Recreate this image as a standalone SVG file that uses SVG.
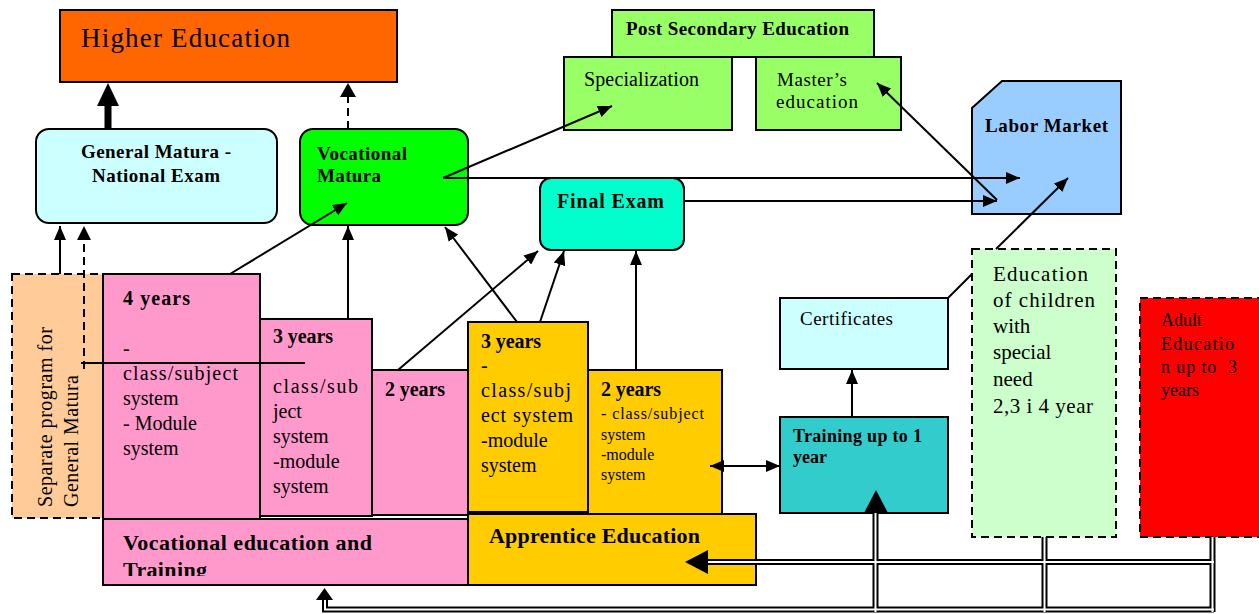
<svg xmlns="http://www.w3.org/2000/svg" width="1259" height="614" viewBox="0 0 1259 614">
<style>
.box{stroke:#000;stroke-width:2}
.dash{stroke:#000;stroke-width:2;stroke-dasharray:8,5}
.t{font-family:"Liberation Serif","Times New Roman",serif;fill:#000}
.b{font-weight:bold}
.ln{stroke:#000;stroke-width:2;fill:none}
.dbo{stroke:#000;stroke-width:6;fill:none}
.dbi{stroke:#fff;stroke-width:2;fill:none}
</style>
<defs>
<marker id="ah" viewBox="0 0 14 12" refX="14" refY="6" markerWidth="14" markerHeight="12" markerUnits="userSpaceOnUse" orient="auto-start-reverse"><path d="M0,0 L14,6 L0,12 z" fill="#000"/></marker>
<clipPath id="vclip"><rect x="103" y="519" width="365" height="57"/></clipPath>
</defs>
<rect width="1259" height="614" fill="#fff"/>

<g id="higher-education"><rect class="box" x="60" y="10" width="337" height="72" fill="#FF6600"/><text class="t" x="81" y="47" font-size="27" textLength="209">Higher Education</text></g>
<g id="general-matura"><rect class="box" x="36" y="129" width="241" height="94" rx="13" fill="#CCFFFF"/><text class="t b" x="81" y="158" font-size="19" textLength="150">General Matura -</text><text class="t b" x="92" y="182" font-size="19" textLength="128">National Exam</text></g>
<g id="vocational-matura"><rect class="box" x="300" y="129" width="168" height="96" rx="13" fill="#00FF00"/><text class="t b" x="317" y="160" font-size="19" textLength="90">Vocational</text><text class="t b" x="317" y="182" font-size="19" textLength="64">Matura</text></g>
<g id="post-secondary"><rect class="box" x="612" y="10" width="262" height="47" fill="#99FF66"/><text class="t b" x="626" y="35" font-size="19" textLength="223">Post Secondary Education</text></g>
<g id="specialization"><rect class="box" x="564" y="57" width="168" height="73" fill="#99FF66"/><text class="t" x="584" y="86" font-size="20" textLength="115">Specialization</text></g>
<g id="masters"><rect class="box" x="756" y="57" width="145" height="73" fill="#99FF66"/><text class="t" x="777" y="86" font-size="19" textLength="70">Master’s</text><text class="t" x="776" y="108" font-size="19" textLength="82">education</text></g>
<g id="labor-market"><path class="box" d="M972,108 L1002,81 H1121 V214 H972 Z" fill="#99CCFF"/><text class="t b" x="985" y="132" font-size="19" textLength="123">Labor Market</text></g>
<g id="final-exam"><rect class="box" x="540" y="178" width="144" height="72" rx="11" fill="#00FFCC"/><text class="t b" x="557" y="208" font-size="20" textLength="107">Final Exam</text></g>

<g id="separate-program"><rect class="dash" x="12" y="274" width="91" height="244" fill="#FFCC99"/><text class="t" transform="translate(52,507) rotate(-90)" font-size="20" textLength="180">Separate program for</text><text class="t" transform="translate(78,507) rotate(-90)" font-size="20" textLength="132">General Matura</text></g>

<g id="vocational-education"><rect class="box" x="103" y="519" width="365" height="66" fill="#FF99CC"/><g clip-path="url(#vclip)"><text class="t b" x="123" y="550" font-size="22" textLength="249">Vocational education and</text><text class="t b" x="123" y="577" font-size="22" textLength="84">Training</text></g></g>
<g id="pink-4-years"><rect class="box" x="103" y="274" width="157" height="245" fill="#FF99CC"/><text class="t b" x="123" y="305" font-size="20" textLength="67">4 years</text><text class="t" x="123" y="355" font-size="20">-</text><text class="t" x="123" y="380" font-size="20" textLength="115">class/subject</text><text class="t" x="123" y="405" font-size="20">system</text><text class="t" x="123" y="430" font-size="20">- Module</text><text class="t" x="123" y="455" font-size="20">system</text></g>
<g id="pink-3-years"><rect class="box" x="260" y="319" width="112" height="197" fill="#FF99CC"/><text class="t b" x="273" y="343" font-size="20" textLength="60">3 years</text><text class="t" x="273" y="368" font-size="20">-</text><text class="t" x="273" y="393" font-size="20" textLength="85">class/sub</text><text class="t" x="273" y="418" font-size="20">ject</text><text class="t" x="273" y="443" font-size="20">system</text><text class="t" x="273" y="468" font-size="20">-module</text><text class="t" x="273" y="493" font-size="20">system</text></g>
<g id="pink-2-years"><rect class="box" x="372" y="370" width="96" height="145" fill="#FF99CC"/><text class="t b" x="385" y="396" font-size="20" textLength="60">2 years</text></g>

<g id="apprentice-education"><rect class="box" x="468" y="514" width="288" height="71" fill="#FFCC00"/><text class="t b" x="489" y="543" font-size="22" textLength="211">Apprentice Education</text></g>
<g id="yellow-3-years"><rect class="box" x="468" y="322" width="120" height="190" fill="#FFCC00"/><text class="t b" x="481" y="348" font-size="20" textLength="60">3 years</text><text class="t" x="481" y="372" font-size="20">-</text><text class="t" x="481" y="397" font-size="20" textLength="90">class/subj</text><text class="t" x="481" y="422" font-size="20" textLength="92">ect system</text><text class="t" x="481" y="447" font-size="20">-module</text><text class="t" x="481" y="472" font-size="20">system</text></g>
<g id="yellow-2-years"><rect class="box" x="588" y="370" width="134" height="144" fill="#FFCC00"/><text class="t b" x="601" y="396" font-size="20" textLength="60">2 years</text><text class="t" x="601" y="419" font-size="16" textLength="103">- class/subject</text><text class="t" x="601" y="440" font-size="16">system</text><text class="t" x="601" y="460" font-size="16">-module</text><text class="t" x="601" y="480" font-size="16">system</text></g>

<g id="certificates"><rect class="box" x="780" y="298" width="168" height="71" fill="#CCFFFF"/><text class="t" x="800" y="325" font-size="19" textLength="93">Certificates</text></g>
<g id="training"><rect class="box" x="780" y="417" width="168" height="96" fill="#33CCCC"/><text class="t b" x="793" y="442" font-size="18" textLength="129">Training up to 1</text><text class="t b" x="793" y="463" font-size="18">year</text></g>
<g id="special-needs"><rect class="dash" x="972" y="249" width="144" height="288" fill="#CCFFCC"/><text class="t" x="993" y="281" font-size="21" textLength="95">Education</text><text class="t" x="993" y="307" font-size="21" textLength="102">of children</text><text class="t" x="993" y="333" font-size="21">with</text><text class="t" x="993" y="359" font-size="21">special</text><text class="t" x="993" y="386" font-size="21">need</text><text class="t" x="993" y="413" font-size="21" textLength="100">2,3 i 4 year</text></g>
<g id="adult-education"><rect class="dash" x="1140" y="298" width="125" height="239" fill="#FF0000"/><text class="t" x="1161" y="326" font-size="18">Adult</text><text class="t" x="1161" y="350" font-size="18" textLength="73">Educatio</text><text class="t" x="1161" y="373" font-size="18" xml:space="preserve" textLength="76">n up to  3</text><text class="t" x="1161" y="396" font-size="18">years</text></g>

<g id="connectors">
<line x1="108" y1="129" x2="108" y2="105" stroke="#000" stroke-width="7"/>
<path d="M97,106 L119,106 L108,83 Z" fill="#000"/>
<line x1="348" y1="129" x2="348" y2="97" class="ln" stroke-dasharray="8,5"/>
<path d="M340,97 L356,97 L348,83 Z" fill="#000"/>
<line class="ln" x1="60" y1="274" x2="60" y2="226" marker-end="url(#ah)"/>
<line class="ln" x1="84" y1="369" x2="84" y2="240" stroke-dasharray="8,5"/>
<path d="M77,240 L91,240 L84,226 Z" fill="#000"/>
<line class="ln" x1="81" y1="363" x2="305" y2="363"/>
<line class="ln" x1="230" y1="274" x2="347" y2="203" marker-end="url(#ah)"/>
<line class="ln" x1="348" y1="319" x2="348" y2="226" marker-end="url(#ah)"/>
<line class="ln" x1="398" y1="370" x2="538" y2="251" marker-end="url(#ah)"/>
<line class="ln" x1="517" y1="322" x2="445" y2="227" marker-end="url(#ah)"/>
<line class="ln" x1="540" y1="322" x2="564" y2="251" marker-end="url(#ah)"/>
<line class="ln" x1="636" y1="370" x2="636" y2="251" marker-end="url(#ah)"/>
<line class="ln" x1="443" y1="178" x2="612" y2="106" marker-end="url(#ah)"/>
<line class="ln" x1="443" y1="178" x2="1020" y2="178" marker-end="url(#ah)"/>
<line class="ln" x1="684" y1="201" x2="997" y2="201" marker-end="url(#ah)"/>
<line class="ln" x1="997" y1="200" x2="877" y2="83" marker-end="url(#ah)"/>
<line class="ln" x1="996" y1="249" x2="1068" y2="178" marker-end="url(#ah)"/>
<line class="ln" x1="948" y1="298" x2="972" y2="274"/>
<line class="ln" x1="852" y1="417" x2="852" y2="370" marker-end="url(#ah)"/>
<line class="ln" x1="710" y1="466" x2="780" y2="466" marker-start="url(#ah)" marker-end="url(#ah)"/>

<path class="dbo" d="M1212.5,537 V612 M1044.5,537 V612 M1214,562 H706 M1214,609.5 H325 V599 M875.5,612 V511"/>
<path class="dbi" d="M1212.5,537 V612 M1044.5,537 V612 M1214,562 H706 M1214,609.5 H325 V599 M875.5,612 V511"/>
<path d="M708,550 L708,574 L685,562 Z" fill="#000"/>
<path d="M864,513 L888,513 L876,490 Z" fill="#000"/>
<path d="M316,600 L333,600 L324.5,588 Z" fill="#000"/>
</g>
</svg>
